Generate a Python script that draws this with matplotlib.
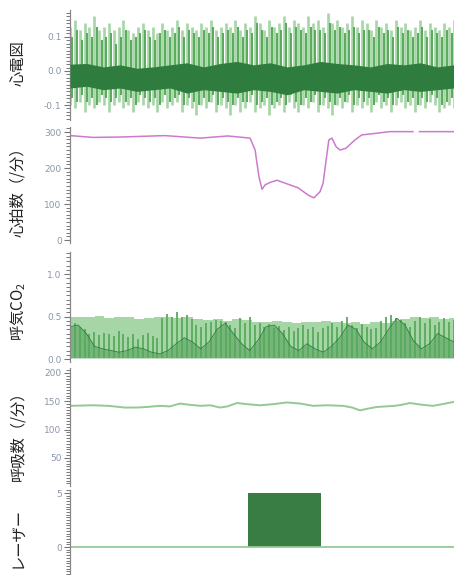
import numpy as np
import matplotlib

matplotlib.use("Agg")

import matplotlib.pyplot as plt
from matplotlib.ticker import MultipleLocator

plt.rcParams["font.family"] = ["Noto Sans CJK JP", "DejaVu Sans"]

# ---- data (time axis 0..100 across the panel) ----
ecg_light_up = [
    0.13, 0.15, 0.12, 0.14, 0.13, 0.16, 0.12, 0.13, 0.14, 0.12, 0.13, 0.15, 0.12, 0.11, 0.13, 0.14,
    0.12, 0.13, 0.11, 0.14, 0.12, 0.13, 0.15, 0.12, 0.14, 0.13, 0.12, 0.14, 0.13, 0.15, 0.12, 0.13,
    0.14, 0.13, 0.15, 0.12, 0.14, 0.13, 0.16, 0.14, 0.12, 0.15, 0.13, 0.14, 0.16, 0.13, 0.15, 0.14,
    0.13, 0.16, 0.14, 0.15, 0.13, 0.17, 0.14, 0.15, 0.13, 0.14, 0.16, 0.13, 0.15, 0.14, 0.12, 0.15,
    0.13, 0.14, 0.12, 0.15, 0.13, 0.14, 0.12, 0.13, 0.15, 0.12, 0.14, 0.13, 0.12, 0.14, 0.13, 0.15,
]
ecg_light_lo = [
    -0.10, -0.11, -0.09, -0.12, -0.10, -0.11, -0.09, -0.10, -0.12, -0.10, -0.09, -0.11, -0.10, -0.12, -0.09, -0.10,
    -0.11, -0.10, -0.12, -0.09, -0.11, -0.10, -0.09, -0.12, -0.10, -0.11, -0.13, -0.10, -0.11, -0.09, -0.12, -0.10,
    -0.11, -0.13, -0.10, -0.12, -0.11, -0.09, -0.12, -0.11, -0.10, -0.13, -0.11, -0.10, -0.12, -0.09, -0.11, -0.12,
    -0.10, -0.11, -0.09, -0.12, -0.10, -0.11, -0.13, -0.10, -0.11, -0.09, -0.12, -0.10, -0.11, -0.10, -0.12, -0.09,
    -0.11, -0.10, -0.12, -0.10, -0.09, -0.11, -0.10, -0.12, -0.10, -0.11, -0.09, -0.10, -0.12, -0.11, -0.10, -0.11,
]
ecg_mid_up = [
    0.10, 0.12, 0.09, 0.11, 0.10, 0.13, 0.09, 0.10, 0.11, 0.08, 0.10, 0.12, 0.09, 0.10, 0.11, 0.12,
    0.10, 0.09, 0.11, 0.12, 0.10, 0.11, 0.13, 0.10, 0.12, 0.11, 0.10, 0.12, 0.11, 0.13, 0.10, 0.11,
    0.12, 0.11, 0.13, 0.10, 0.12, 0.11, 0.14, 0.12, 0.10, 0.13, 0.11, 0.12, 0.14, 0.11, 0.13, 0.12,
    0.11, 0.13, 0.12, 0.12, 0.11, 0.14, 0.12, 0.13, 0.11, 0.12, 0.13, 0.11, 0.12, 0.12, 0.10, 0.13,
    0.11, 0.12, 0.10, 0.13, 0.11, 0.12, 0.10, 0.11, 0.13, 0.10, 0.12, 0.11, 0.10, 0.12, 0.11, 0.13,
]
ecg_mid_lo = [
    -0.08, -0.09, -0.07, -0.09, -0.08, -0.10, -0.07, -0.08, -0.09, -0.08, -0.07, -0.09, -0.08, -0.10, -0.07, -0.08,
    -0.09, -0.08, -0.10, -0.07, -0.09, -0.08, -0.07, -0.10, -0.08, -0.09, -0.10, -0.08, -0.09, -0.07, -0.10, -0.08,
    -0.09, -0.10, -0.08, -0.09, -0.09, -0.07, -0.10, -0.09, -0.08, -0.10, -0.09, -0.08, -0.10, -0.07, -0.09, -0.10,
    -0.08, -0.09, -0.07, -0.10, -0.08, -0.09, -0.10, -0.08, -0.09, -0.07, -0.10, -0.08, -0.09, -0.08, -0.10, -0.07,
    -0.09, -0.08, -0.10, -0.08, -0.07, -0.09, -0.08, -0.10, -0.08, -0.09, -0.07, -0.08, -0.10, -0.09, -0.08, -0.09,
]
ecg_base_top = [0.020, 0.022, 0.012, 0.018, 0.008, 0.012, 0.018, 0.024, 0.012, 0.022, 0.028, 0.018,
                0.024, 0.012, 0.018, 0.028, 0.022, 0.018, 0.012, 0.022, 0.018, 0.024, 0.012, 0.018]
ecg_base_bot = [-0.050, -0.045, -0.055, -0.050, -0.060, -0.055, -0.050, -0.065, -0.055, -0.060, -0.065, -0.055,
                -0.060, -0.070, -0.055, -0.060, -0.065, -0.055, -0.060, -0.065, -0.055, -0.060, -0.055, -0.050]

hr_t = [0, 6, 13, 24.7, 33.9, 41.1, 46.9, 48.2, 49.2, 50.0, 50.8, 52.1, 53.9, 57.3, 59.4, 62.0, 63.5,
        65.1, 65.9, 66.7, 67.4, 68.2, 69.3, 70.3, 71.9, 74.2, 76.0, 79.4, 83.3, 89.3, 90.0, 91.0, 100]
hr_bpm = [290, 285, 286, 290, 283, 289, 283, 250, 176, 141, 153, 160, 166, 153, 145, 125, 117,
          134, 157, 222, 278, 283, 259, 250, 255, 278, 292, 296, 301, 301, np.nan, 301, 301]

co2_light = [0.50, 0.49, 0.50, 0.51, 0.48, 0.50, 0.49, 0.47, 0.48, 0.50, 0.49, 0.48, 0.50, 0.47,
             0.46, 0.47, 0.45, 0.47, 0.46, 0.44,
             0.43, 0.45, 0.44, 0.42, 0.44, 0.43, 0.45, 0.44,
             0.42, 0.43, 0.41, 0.44, 0.42, 0.45,
             0.47, 0.49, 0.48, 0.50, 0.47, 0.48]
co2_mid = [0.40, 0.42, 0.38, 0.35,
           0.30, 0.32, 0.28, 0.31, 0.30, 0.27, 0.33, 0.29,
           0.26, 0.30, 0.24, 0.28, 0.31, 0.27, 0.25,
           0.48, 0.53, 0.50, 0.55, 0.49, 0.52, 0.47,
           0.40, 0.38, 0.42,
           0.44, 0.46, 0.45, 0.43, 0.40,
           0.36, 0.48, 0.42, 0.50,
           0.40, 0.42, 0.38, 0.41, 0.36, 0.39,
           0.34, 0.38, 0.33, 0.37, 0.40, 0.35, 0.38, 0.32, 0.36, 0.39,
           0.42, 0.38, 0.45, 0.50, 0.40, 0.36, 0.41, 0.38, 0.35, 0.37,
           0.45, 0.50, 0.52, 0.48, 0.46, 0.42,
           0.38, 0.45, 0.50, 0.42, 0.47, 0.40, 0.44, 0.48, 0.43, 0.46]
co2_dark = [0.38, 0.40, 0.30, 0.15, 0.12, 0.10, 0.08, 0.10,
            0.14, 0.12, 0.08, 0.06, 0.10, 0.18, 0.25, 0.20,
            0.12, 0.20, 0.35, 0.42, 0.30, 0.18, 0.10, 0.22,
            0.38, 0.40, 0.30, 0.15, 0.10, 0.18, 0.12, 0.08,
            0.15, 0.25, 0.40, 0.35, 0.20, 0.12, 0.20, 0.35,
            0.48, 0.40, 0.22, 0.12, 0.18, 0.30, 0.25, 0.20]

rr_t = [0, 6, 10, 14.3, 17.4, 20, 23.4, 26, 28.6, 31, 33.9, 36.5, 39.1, 41, 43.5, 46, 49.5, 53,
        56.5, 60, 63.3, 67, 71.1, 73.5, 75.5, 77.5, 79.9, 84.6, 86.5, 88.5, 91.5, 94.5, 97, 100]
rr_bpm = [142, 143, 142, 139, 139, 140, 142, 141, 146, 144, 142, 143, 139, 141, 147, 145, 143, 145,
          148, 146, 142, 143, 142, 139, 134, 137, 140, 142, 144, 147, 144, 142, 145, 149]

laser_t = [0, 46.4, 46.4, 65.3, 65.3, 100]
laser_on = [0, 0, 5, 5, 0, 0]

# ---- styling ----
LIGHT = "#a6d6a6"
MID = "#58aa5c"
DARK = "#2f7d3e"
HR_C = "#cc7acc"
RR_C = "#93c993"
TICK_C = "#8a96a8"
SPINE_C = "#888888"

W, H = 454, 575
fig = plt.figure(figsize=(W / 100, H / 100), dpi=100)


def make_ax(top, bottom):
    ax = fig.add_axes([70 / W, 1 - bottom / H, 384 / W, (bottom - top) / H])
    ax.set_xlim(0, 100)
    for s in ("top", "right", "bottom"):
        ax.spines[s].set_visible(False)
    ax.spines["left"].set_color(SPINE_C)
    ax.spines["left"].set_linewidth(0.9)
    ax.tick_params(axis="x", bottom=False, labelbottom=False)
    ax.tick_params(axis="y", which="major", length=4.5, width=0.8, color="#777777",
                   labelsize=6.5, labelcolor=TICK_C, pad=1.5)
    ax.tick_params(axis="y", which="minor", length=3, width=0.7, color="#777777")
    for lab in ax.get_yticklabels():
        lab.set_family("DejaVu Sans")
    return ax


def ylab(yc, s):
    fig.text(18 / W, 1 - yc / H, s, rotation=90, ha="center", va="center", fontsize=11, color="#222222")


# ECG
ax = make_ax(10, 120)
ax.set_ylim(-0.144, 0.179)
n = len(ecg_light_up)
tb = np.linspace(0, 100, n)
step = tb[1] - tb[0]
ax.vlines(tb, ecg_light_lo, ecg_light_up, color=LIGHT, lw=1.9, zorder=1)
ax.vlines(tb + step / 2, ecg_mid_lo, ecg_mid_up, color=MID, lw=1.4, zorder=2)
tbase = np.linspace(0, 100, len(ecg_base_top))
ax.fill_between(tbase, ecg_base_bot, ecg_base_top, color=DARK, lw=0, zorder=3)
ax.set_yticks([-0.1, 0.0, 0.1], ["-0.1", "0.0", "0.1"])
ax.yaxis.set_minor_locator(MultipleLocator(0.01))
ylab(63, "心電図")

# heart rate
ax = make_ax(127, 243)
ax.set_ylim(-8.3, 313.9)
ax.plot(hr_t, hr_bpm, color=HR_C, lw=1.1)
ax.set_yticks([0, 100, 200, 300])
ax.yaxis.set_minor_locator(MultipleLocator(10))
ylab(188, "心拍数（/分）")

# expired CO2
ax = make_ax(252, 362)
ax.set_ylim(-0.035, 1.259)
tl = np.linspace(0, 100, len(co2_light))
ax.fill_between(tl, 0.01, co2_light, step="mid", color=LIGHT, lw=0)
tm = np.linspace(0, 100, len(co2_mid))
ax.vlines(tm, 0.01, co2_mid, color=MID, lw=1.3)
td = np.linspace(0, 100, len(co2_dark))
ax.fill_between(td, 0.01, co2_dark, color="#3d8f47", alpha=0.45, lw=0)
ax.plot(td, co2_dark, color=DARK, lw=0.6)
ax.set_yticks([0.0, 0.5, 1.0], ["0.0", "0.5", "1.0"])
ax.yaxis.set_minor_locator(MultipleLocator(0.05))
ylab(311, "呼気CO$_\\mathregular{2}$")

# respiratory rate
ax = make_ax(368, 486)
ax.set_ylim(0.5, 208.8)
ax.plot(rr_t, rr_bpm, color=RR_C, lw=1.4)
ax.set_yticks([50, 100, 150, 200])
ax.yaxis.set_minor_locator(MultipleLocator(5))
ylab(432, "呼吸数（/分）")

# laser
ax = make_ax(490, 575)
ax.set_ylim(-2.59, 5.28)
ax.fill_between(laser_t, 0, laser_on, color="#3a7d44", lw=0)
ax.plot([0, 100], [0, 0], color=RR_C, lw=1.3)
ax.set_yticks([0, 5])
ax.yaxis.set_minor_locator(MultipleLocator(0.25))
ylab(537, "レーザー")

fig.savefig("out.png", dpi=100)
